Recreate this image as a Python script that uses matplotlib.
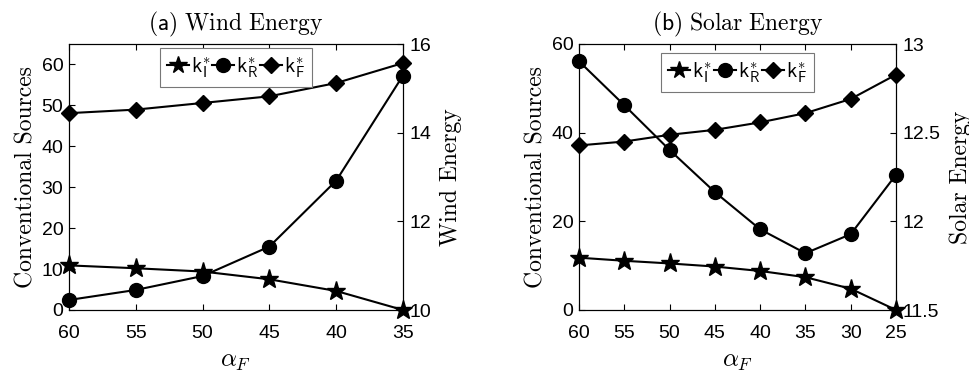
import matplotlib
matplotlib.use("Agg")
import matplotlib.pyplot as plt
from matplotlib.lines import Line2D

plt.rcParams['font.family'] = ['Liberation Sans', 'DejaVu Sans']
plt.rcParams['mathtext.fontset'] = 'cm'

# ---- data ----
wind_alpha = [60, 55, 50, 45, 40, 35]
wind_kI = [10.9, 10.2, 9.4, 7.5, 4.65, 0.0]
wind_kR = [2.45, 4.9, 8.3, 15.5, 31.6, 57.3]
wind_kF = [14.44, 14.52, 14.67, 14.82, 15.12, 15.57]

solar_alpha = [60, 55, 50, 45, 40, 35, 30, 25]
solar_kI = [11.8, 11.1, 10.5, 9.8, 8.8, 7.4, 4.8, 0.0]
solar_kR = [56.1, 46.2, 36.1, 26.6, 18.2, 12.8, 17.1, 30.5]
solar_kF = [12.428, 12.45, 12.488, 12.516, 12.558, 12.61, 12.69, 12.827]

wind_xticks = [60, 55, 50, 45, 40, 35]
solar_xticks = [60, 55, 50, 45, 40, 35, 30, 25]
wind_left_ticks = [0, 10, 20, 30, 40, 50, 60]
wind_right_ticks = [10, 12, 14, 16]
solar_left_ticks = [0, 20, 40, 60]
solar_right_ticks = [11.5, 12, 12.5, 13]

titles = [r'$\mathsf{(a)}\ \mathrm{Wind\ Energy}$', r'$\mathsf{(b)}\ \mathrm{Solar\ Energy}$']
left_label = 'Conventional Sources'
right_labels = ['Wind Energy', 'Solar Energy']
labels = [r'$\mathsf{k}_{\mathsf{I}}^{*}$', r'$\mathsf{k}_{\mathsf{R}}^{*}$', r'$\mathsf{k}_{\mathsf{F}}^{*}$']

fig = plt.figure(figsize=(9.7, 3.73), dpi=100)
ax_pos = [[69/970, 63/373, 334/970, 266/373], [579/970, 63/373, 317/970, 266/373]]

panels = [
    (wind_alpha, wind_kI, wind_kR, wind_kF, wind_xticks, (60, 35), (0, 65), wind_left_ticks,
     (10, 16), wind_right_ticks, ['10', '12', '14', '16'], (0.5, 0.985)),
    (solar_alpha, solar_kI, solar_kR, solar_kF, solar_xticks, (60, 25), (0, 60), solar_left_ticks,
     (11.5, 13), solar_right_ticks, ['11.5', '12', '12.5', '13'], (0.5, 0.965)),
]

lw = 1.5
tfs = 14
for i, (xa, kI, kR, kF, xt, xl, yl, ylt, yr, yrt, yrtl, lpos) in enumerate(panels):
    ax = fig.add_axes(ax_pos[i])
    ax2 = ax.twinx()
    ax.plot(xa, kI, color='k', lw=lw, marker='*', ms=14, clip_on=False, zorder=3)
    ax.plot(xa, kR, color='k', lw=lw, marker='o', ms=10, clip_on=False, zorder=3)
    ax2.plot(xa, kF, color='k', lw=lw, marker='D', ms=8.5, clip_on=False, zorder=3)
    ax.set_xlim(*xl)
    ax.set_ylim(*yl)
    ax2.set_ylim(*yr)
    ax.set_xticks(xt)
    ax.set_yticks(ylt)
    ax2.set_yticks(yrt)
    ax2.set_yticklabels(yrtl)
    ax.tick_params(axis='both', direction='in', labelsize=tfs, top=True, length=4, width=0.8, pad=4)
    ax.tick_params(axis='x', pad=11)
    ax2.tick_params(axis='y', direction='in', labelsize=tfs, length=4, width=0.8, pad=5)
    for a in (ax, ax2):
        for s in a.spines.values():
            s.set_linewidth(0.8)
    ax.set_title(titles[i], fontsize=17, pad=10)
    ax.set_ylabel(left_label, fontfamily='cmr10', fontsize=17, labelpad=3)
    ax2.set_ylabel(right_labels[i], fontfamily='cmr10', fontsize=17, labelpad=6)
    ax.set_xlabel(r'$\alpha_F$', fontsize=18, labelpad=5)
    handles = [
        Line2D([], [], color='k', lw=lw, marker='*', ms=13),
        Line2D([], [], color='k', lw=lw, marker='o', ms=10),
        Line2D([], [], color='k', lw=lw, marker='D', ms=8),
    ]
    leg = ax2.legend(handles, labels, loc='upper center', bbox_to_anchor=lpos, ncol=3,
                     fontsize=15, frameon=True, fancybox=False, framealpha=1,
                     edgecolor='#777777', handlelength=1.05, handletextpad=0.1,
                     columnspacing=0.1, borderpad=0.35, borderaxespad=0)
    leg.get_frame().set_linewidth(0.8)

fig.savefig('out.png', dpi=100)
